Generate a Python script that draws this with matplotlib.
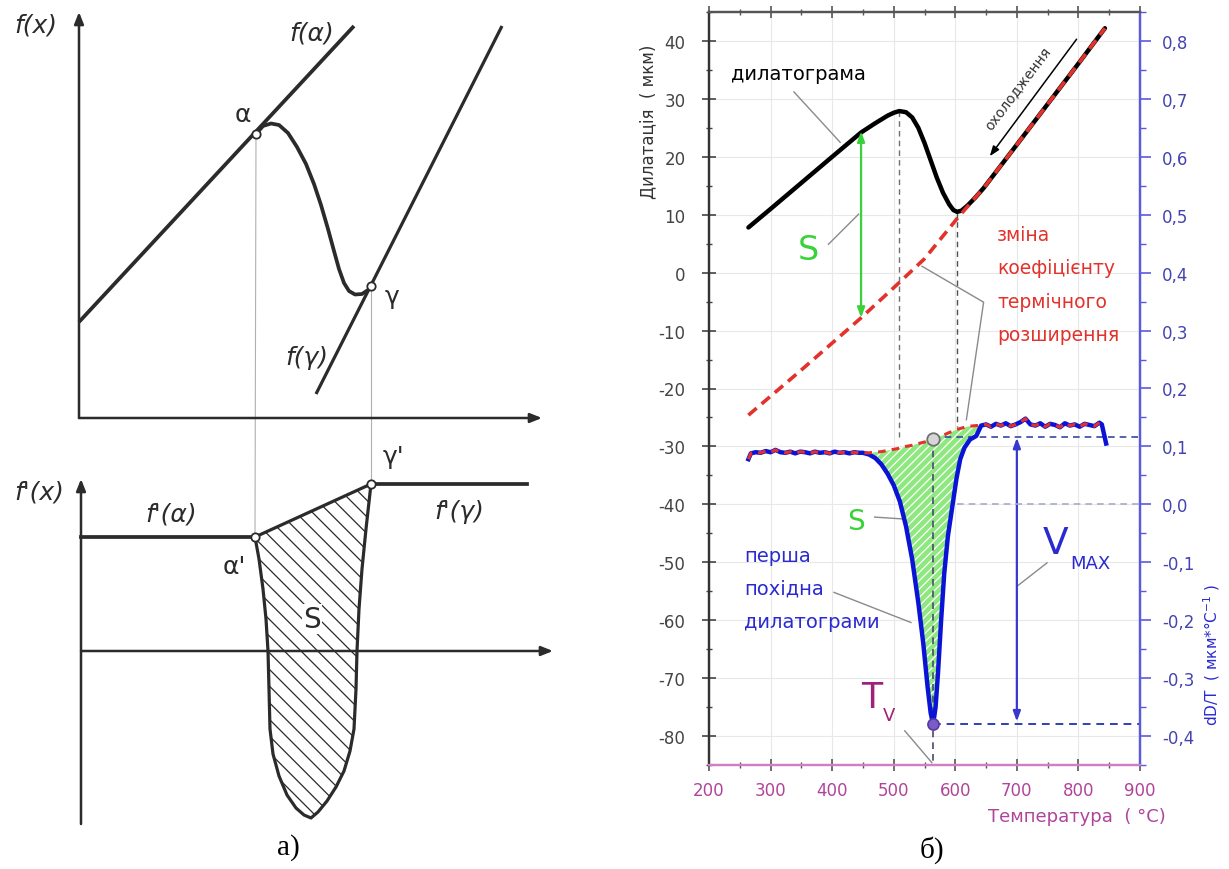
import numpy as np
import matplotlib.pyplot as plt
from matplotlib.ticker import MultipleLocator, FixedLocator, FixedFormatter

plt.rcParams['font.family'] = ['DejaVu Sans']
plt.rcParams['axes.unicode_minus'] = False
plt.rcParams['hatch.linewidth'] = 0.9

# ---------- панель а): схема (координати схеми, вісь y вниз)
f_alpha_x = [79, 354]
f_alpha_y = [323, 27]
f_gamma_x = [316, 502]
f_gamma_y = [395, 27]
trans_x = [256, 263, 271, 279, 288, 297, 306, 314, 321, 328, 334, 339, 344, 349, 355, 362, 368, 371]
trans_y = [135, 127, 124.5, 126, 134, 148, 165, 185, 206, 230, 252, 270, 284, 292, 295.5, 295, 291, 287]
pt_a = (256, 135)
pt_g = (371, 287)

df_alpha_x = [81, 255]
df_alpha_y = [538, 538]
df_gamma_x = [371, 527]
df_gamma_y = [485, 485]
pt_a2 = (255, 538)
pt_g2 = (371, 485)
well_x = [255, 259, 263, 266, 268, 269, 270, 273, 279, 287, 296, 304, 311,
          318, 327, 336, 344, 350, 354, 356, 357, 359, 362, 366, 371]
well_y = [538, 560, 590, 620, 652, 690, 730, 755, 777, 796, 809, 816, 819,
          813, 802, 788, 772, 752, 730, 690, 652, 610, 570, 530, 485]

# ---------- панель б): дилатограма
T_dil = [264, 300, 350, 400, 447, 470, 490, 500, 509, 520, 530, 540, 550, 560,
         570, 580, 590, 597, 603, 610, 620, 632, 646, 700, 750, 800, 843]
dil = [7.8, 11.0, 15.5, 20.0, 24.2, 25.8, 27.1, 27.6, 27.9, 27.7, 26.8, 25.0,
       22.4, 19.4, 16.4, 13.8, 11.8, 10.8, 10.5, 10.7, 11.6, 12.9, 14.6, 22.1,
       29.1, 36.1, 42.2]
T_ext = [264, 350, 447, 500, 550, 605, 646, 700, 750, 800, 843]
ext = [-24.6, -16.8, -7.8, -2.6, 2.4, 9.6, 14.6, 22.1, 29.1, 36.1, 42.2]

# похідна (права вісь)
T_flat = [264, 268, 276, 284, 292, 300, 308, 316, 324, 332, 340, 348, 356, 364,
          372, 380, 388, 396, 404, 412, 420, 428, 436, 444, 450]
d_flat = [0.078, 0.088, 0.090, 0.089, 0.092, 0.090, 0.094, 0.090, 0.089, 0.091,
          0.088, 0.091, 0.090, 0.088, 0.091, 0.089, 0.090, 0.088, 0.091, 0.089,
          0.090, 0.088, 0.090, 0.089, 0.089]
T_dip = [450, 460, 470, 480, 490, 500, 510, 520, 530, 540, 548, 555, 560, 564,
         568, 572, 577, 582, 588, 595, 602, 608, 615, 624, 634, 642]
d_dip = [0.089, 0.086, 0.080, 0.069, 0.053, 0.033, 0.005, -0.038, -0.095, -0.170,
         -0.240, -0.315, -0.360, -0.380, -0.350, -0.290, -0.200, -0.120, -0.055,
         -0.005, 0.045, 0.078, 0.098, 0.112, 0.118, 0.136]
base_dip = [0.089, 0.089, 0.090, 0.091, 0.093, 0.095, 0.097, 0.100, 0.102, 0.105,
            0.107, 0.109, 0.111, 0.112, 0.114, 0.116, 0.118, 0.120, 0.123, 0.126,
            0.129, 0.131, 0.133, 0.135, 0.136, 0.136]
T_top = [642, 650, 658, 666, 674, 682, 690, 698, 706, 714, 722, 730, 738, 746,
         754, 762, 770, 778, 786, 794, 802, 810, 818, 826, 834, 838, 845]
d_top = [0.136, 0.138, 0.134, 0.139, 0.136, 0.140, 0.135, 0.138, 0.142, 0.148,
         0.138, 0.136, 0.140, 0.134, 0.139, 0.137, 0.133, 0.140, 0.136, 0.138,
         0.134, 0.139, 0.137, 0.135, 0.141, 0.138, 0.105]

T_peak, dil_peak = 509, 27.9
T_min, dil_min = 603, 10.5
T_v, v_onset, v_min = 564, 0.112, -0.380
v_ref = 0.117

x_ticks = [200, 300, 400, 500, 600, 700, 800, 900]
y_ticks = [40, 30, 20, 10, 0, -10, -20, -30, -40, -50, -60, -70, -80]
r_ticks = [0.8, 0.7, 0.6, 0.5, 0.4, 0.3, 0.2, 0.1, 0.0, -0.1, -0.2, -0.3, -0.4]
r_labels = ['0,8', '0,7', '0,6', '0,5', '0,4', '0,3', '0,2', '0,1', '0,0',
            '-0,1', '-0,2', '-0,3', '-0,4']

fig = plt.figure(figsize=(12.29, 8.70), dpi=100)

# ================= а)
axa = fig.add_axes([0, 0, 578 / 1229, 1])
axa.set_xlim(0, 578)
axa.set_ylim(870, 0)
axa.axis('off')
ink = '#2b2b2b'

def arrow(ax, base, tip):
    ax.annotate('', xy=tip, xytext=base,
                arrowprops=dict(arrowstyle='-|>,head_length=0.7,head_width=0.28',
                                lw=1.8, color=ink, shrinkA=0, shrinkB=0))

arrow(axa, (79, 419), (79, 13))
arrow(axa, (79, 419), (542, 419))
arrow(axa, (81, 825), (81, 480))
arrow(axa, (81, 652), (553, 652))

axa.plot([pt_a[0], pt_a2[0]], [pt_a[1], pt_a2[1]], color='#b0b0b0', lw=0.8)
axa.plot([pt_g[0], pt_g2[0]], [pt_g[1], pt_g2[1]], color='#b0b0b0', lw=0.8)

axa.plot(f_alpha_x, f_alpha_y, color=ink, lw=2.7, solid_capstyle='butt')
axa.plot(f_gamma_x, f_gamma_y, color=ink, lw=2.3, solid_capstyle='butt')
axa.plot(trans_x, trans_y, color=ink, lw=2.7)

axa.fill(well_x, well_y, facecolor='white', edgecolor=ink, hatch='\\\\', lw=0)
axa.plot(well_x, well_y, color=ink, lw=2.3)
axa.plot([pt_a2[0], pt_g2[0]], [pt_a2[1], pt_g2[1]], color=ink, lw=2.3)
axa.plot(df_alpha_x, df_alpha_y, color=ink, lw=2.7)
axa.plot(df_gamma_x, df_gamma_y, color=ink, lw=2.7)

for p in [pt_a, pt_g, pt_a2, pt_g2]:
    axa.plot(p[0], p[1], 'o', ms=6, mfc='white', mec=ink, mew=1.3, zorder=5)

lab = dict(color=ink, ha='center', va='center', fontsize=18)
axa.text(36, 25, 'f(x)', style='italic', **lab)
axa.text(312, 33, 'f(α)', style='italic', **lab)
axa.text(243, 115, 'α', **lab)
axa.text(392, 297, 'γ', **lab)
axa.text(307, 358, 'f(γ)', style='italic', **lab)
axa.text(39, 493, "f'(x)", style='italic', **lab)
axa.text(171, 515, "f'(α)", style='italic', **lab)
axa.text(234, 567, "α'", **lab)
axa.text(393, 457, "γ'", **lab)
axa.text(459, 512, "f'(γ)", style='italic', **lab)
axa.text(312, 620, 'S', color=ink, ha='center', va='center', fontsize=20,
         bbox=dict(facecolor='white', edgecolor='none', pad=1))
axa.text(288, 848, 'а)', ha='center', va='center', fontsize=21,
         family='Liberation Serif', color='black')

# ================= б)
ax = fig.add_axes([709 / 1229, 1 - 766 / 870, 431 / 1229, 753 / 870])
ax.set_xlim(200, 900)
ax.set_ylim(-85, 45)
ax2 = ax.twinx()
ax2.set_ylim(-0.45, 0.85)

ax.grid(True, color='#e8e8e8', lw=0.8)
ax.set_axisbelow(True)

c_blue = '#0b14d6'
c_red = '#e2322b'
c_green = '#3ad23a'
c_mag = '#b0449a'
c_lead = '#8a8a8a'

# опорні пунктири
ax.plot([T_peak, T_peak], [dil_peak, -28.3], color='#707070', lw=1, dashes=(4, 3))
ax.plot([T_min, T_min], [dil_min, -26.6], color='#505050', lw=1, dashes=(4, 3))

ax.plot(T_dil, dil, color='black', lw=3.2, solid_capstyle='round')
ax.plot(T_ext, ext, color=c_red, lw=2.6, dashes=(3, 1.8))

# похідна
ax2.plot([T_min, 900], [0.0, 0.0], color='#a6acc8', lw=1.2, dashes=(4, 3))
ax2.plot([T_v, 900], [v_ref, v_ref], color='#3848a0', lw=1.2, dashes=(4, 3))
ax2.plot([T_v, 900], [v_min, v_min], color='#3040b8', lw=1.4, dashes=(4, 3))
ax2.fill_between(T_dip, d_dip, base_dip, facecolor='#8ee880', edgecolor='white',
                 hatch='////', lw=0)
ax2.plot([T_v, T_v], [v_onset, -0.45], color='#4a4a6a', lw=1.2, dashes=(4, 3))
ax2.plot(T_flat + T_dip[1:] + T_top[1:], d_flat + d_dip[1:] + d_top[1:],
         color=c_blue, lw=3.2)
ax2.plot(T_flat + T_dip[1:] + T_top[1:-2], d_flat + base_dip[1:] + d_top[1:-2],
         color=c_red, lw=2.2, dashes=(2.5, 2))
ax2.plot(T_v, v_onset, 'o', ms=9, mfc='#d6d6d6', mec='#707070', mew=1.3, zorder=6)
ax2.plot(T_v, v_min, 'o', ms=8, mfc='#7a5cc8', mec='#5a3aa0', mew=1.2, zorder=6)

# стрілки
ax.annotate('', xy=(447, 24.4), xytext=(447, -7.8),
            arrowprops=dict(arrowstyle='<|-|>,head_length=0.6,head_width=0.22',
                            color=c_green, lw=1.6, shrinkA=0, shrinkB=0))
ax.annotate('', xy=(700, -28.5), xytext=(700, -77.5),
            arrowprops=dict(arrowstyle='<|-|>,head_length=0.6,head_width=0.22',
                            color='#3838d0', lw=1.6, shrinkA=0, shrinkB=0))
ax.annotate('', xy=(656, 20.1), xytext=(797, 40.3),
            arrowprops=dict(arrowstyle='-|>,head_length=0.6,head_width=0.22',
                            color='black', lw=1.1, shrinkA=0, shrinkB=0))

# підписи та виноски
ax.plot([338, 413], [31.2, 22.5], color=c_lead, lw=1)
ax.text(345, 34.3, 'дилатограма', color='black', fontsize=14, ha='center', va='center')
ax.plot([394, 443], [4.9, 10.1], color=c_lead, lw=1)
ax.text(361, 4.0, 'S', color=c_green, fontsize=24, ha='center', va='center')
ax.text(702, 32.0, 'охолодження', color='#333333', fontsize=10, rotation=53,
        ha='center', va='center')

ax.plot([546, 646, 618], [1.1, -5.1, -25.4], color=c_lead, lw=1)
for s, yv in zip(['зміна', 'коефіцієнту', 'термічного', 'розширення'],
                 [6.6, 0.9, -5.0, -10.7]):
    ax.text(668, yv, s, color=c_red, fontsize=13.5, ha='left', va='center')

ax.plot([469, 540], [-42.2, -42.7], color=c_lead, lw=1)
ax.text(438, -42.8, 'S', color=c_green, fontsize=20, ha='center', va='center')

ax.plot([749, 702], [-50.1, -54.0], color=c_lead, lw=1)
ax.text(762, -46.7, 'V', color='#2a2ad0', fontsize=27, ha='center', va='center')
ax.text(819, -50.2, 'MAX', color='#2a2ad0', fontsize=13, ha='center', va='center')

ax.plot([403, 528], [-55.2, -60.4], color=c_lead, lw=1)
for s, yv in zip(['перша', 'похідна', 'дилатограми'], [-48.8, -54.5, -60.2]):
    ax.text(257, yv, s, color='#2a2ad0', fontsize=14, ha='left', va='center')

ax.plot([518, 562], [-79.1, -84.6], color=c_lead, lw=1)
ax.text(464, -73.3, 'T', color='#a0207a', fontsize=25, ha='center', va='center')
ax.text(493, -76.3, 'V', color='#a0207a', fontsize=13, ha='center', va='center')

# осі
ax.xaxis.set_major_locator(FixedLocator(x_ticks))
ax.xaxis.set_minor_locator(MultipleLocator(50))
ax.yaxis.set_major_locator(FixedLocator(y_ticks))
ax.yaxis.set_minor_locator(MultipleLocator(5))
ax.tick_params(axis='x', which='both', top=True, direction='inout', colors='#555555',
               labelcolor=c_mag, labelsize=12, pad=7)
ax.tick_params(axis='x', which='major', length=9, width=1.2)
ax.tick_params(axis='x', which='minor', length=5, width=1)
ax.tick_params(axis='y', which='both', direction='inout', colors='#444444',
               labelsize=12, pad=12)
ax.tick_params(axis='y', which='major', length=10, width=1.2)
ax.tick_params(axis='y', which='minor', length=5, width=1)

ax2.yaxis.set_major_locator(FixedLocator(r_ticks))
ax2.yaxis.set_major_formatter(FixedFormatter(r_labels))
ax2.yaxis.set_minor_locator(MultipleLocator(0.05))
ax2.tick_params(axis='y', which='both', direction='out', colors='#5a5ae0',
                labelcolor='#4444b0', labelsize=12, pad=8)
ax2.tick_params(axis='y', which='major', length=8, width=1.2)
ax2.tick_params(axis='y', which='minor', length=4, width=1)

for a in (ax, ax2):
    a.spines['left'].set_color('#333333')
    a.spines['top'].set_color('#555555')
    a.spines['right'].set_color('#5a5ae0')
    a.spines['bottom'].set_color('#d27ec4')
    for sp in a.spines.values():
        sp.set_linewidth(1.6)

ax.text(-0.14, 0.855, 'Дилатація  ( мкм)', transform=ax.transAxes, rotation=90,
        color='#333333', fontsize=12, ha='center', va='center')
ax.text(1.167, 0.147, 'dD/T  ( мкм*°C$^{-1}$ )', transform=ax.transAxes, rotation=90,
        color='#2a2ad0', fontsize=11, ha='center', va='center')
ax.text(0.854, -0.068, 'Температура  ( °C)', transform=ax.transAxes,
        color=c_mag, fontsize=13, ha='center', va='center')

fig.text(932 / 1229, 1 - 850 / 870, 'б)', ha='center', va='center', fontsize=21,
         family='Liberation Serif', color='black')

fig.savefig('out.png', dpi=100)
